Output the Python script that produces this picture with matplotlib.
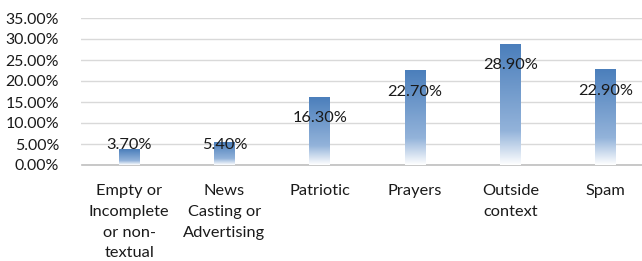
import numpy as np
import matplotlib
matplotlib.use('Agg')
from matplotlib import pyplot as plt
from matplotlib.colors import LinearSegmentedColormap

categories = ['Empty or\nIncomplete\nor non-\ntextual', 'News\nCasting or\nAdvertising',
              'Patriotic', 'Prayers', 'Outside\ncontext', 'Spam']
values = [3.70, 5.40, 16.30, 22.70, 28.90, 22.90]
yticks = [0, 5, 10, 15, 20, 25, 30, 35]

plt.rcParams['font.family'] = ['Lato', 'DejaVu Sans']

fig = plt.figure(figsize=(6.42, 2.61), dpi=100)
ax = fig.add_axes([81.5 / 642, 1 - 165 / 261, 1 - 81.5 / 642, 147 / 261])

x = np.arange(len(categories))
bars = ax.bar(x, values, width=0.22, color='none', edgecolor='none', zorder=3)

# gradient fill: dark blue at top, fading to white at the bottom
cmap = LinearSegmentedColormap.from_list(
    'grad', [(0.0, '#4a7ebb'), (0.72, '#93b3da'), (1.0, '#ffffff')])
grad = np.linspace(0, 1, 256).reshape(-1, 1)
for b in bars:
    x0, w, h = b.get_x(), b.get_width(), b.get_height()
    im = ax.imshow(grad, cmap=cmap, aspect='auto', origin='upper',
                   extent=[x0, x0 + w, 0, h], zorder=3)
    im.set_clip_path(b)

for xi, v in zip(x, values):
    ax.text(xi, max(v - 5.2, 4.8), '%.2f%%' % v, ha='center', va='center',
            fontsize=11.8, color='#1a1a1a', zorder=4)

ax.set_xlim(-0.5, 5.38)
ax.set_ylim(0, 35)
ax.set_yticks(yticks)
ax.set_yticklabels(['%.2f%%' % t for t in yticks], fontsize=11.4)
ax.set_xticks(x)
ax.set_xticklabels(categories, linespacing=1.6, va='top')
ax.tick_params(axis='x', length=0, labelsize=11.8, colors='#1a1a1a', pad=14)
ax.tick_params(axis='y', length=0, colors='#1a1a1a', pad=16)
ax.grid(axis='y', color='#d9d9d9', linewidth=1, zorder=0)
ax.set_axisbelow(True)
for s in ['top', 'right', 'left']:
    ax.spines[s].set_visible(False)
ax.spines['bottom'].set_color('#bfbfbf')
ax.spines['bottom'].set_linewidth(1.2)

fig.savefig('out.png', dpi=100)
